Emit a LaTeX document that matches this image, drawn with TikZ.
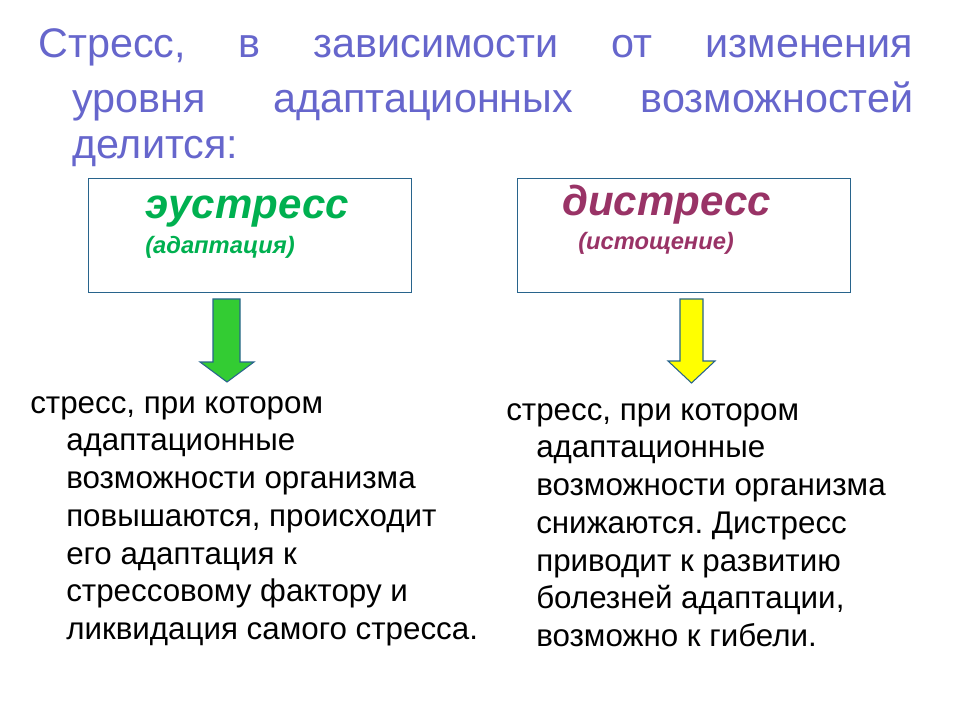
\documentclass[tikz,border=0pt]{standalone}
\usepackage{fontspec}
\setmainfont{Liberation Sans}
\usetikzlibrary{positioning}
\frenchspacing

\definecolor{titleblue}{RGB}{102,102,204}
\definecolor{eugreen}{RGB}{0,176,80}
\definecolor{displum}{RGB}{153,51,102}
\definecolor{frameblue}{RGB}{40,100,140}
\definecolor{arrowgreen}{RGB}{51,204,51}
\definecolor{arrowyellow}{RGB}{255,255,0}

\tikzset{
	titleline/.style={inner sep=0, anchor=base west, text=titleblue, font=\fontsize{31}{37}\selectfont},
	kindbox/.style={draw=frameblue, line width=1.1pt, anchor=north west, minimum height=85.5pt, inner sep=0},
	kindname/.style={inner sep=0, anchor=base west, font=\bfseries\itshape\fontsize{31.5}{36}\selectfont},
	kindsub/.style={inner sep=0, anchor=base west, font=\bfseries\itshape\fontsize{17.8}{22}\selectfont},
	fatarrow/.style={draw=frameblue, line width=0.8pt, line join=miter},
	explain/.style={inner sep=0, anchor=north west, align=left, font=\fontsize{23.5}{28.3}\selectfont},
}

\begin{document}
\begin{tikzpicture}[x=0.75pt,y=-0.75pt]
	\useasboundingbox (0,0) rectangle (960,720);

	% title
	\node[titleline] (tline1) at (38,58) {\makebox[656.25pt][s]{Стресс, в зависимости от изменения}};
	\node[titleline] (tline2) at (72,113) {\makebox[630.75pt][s]{уровня адаптационных возможностей}};
	\node[titleline] (tline3) at (72,159) {делится:};

	% the two boxes
	\node[kindbox, minimum width=242.25pt] (eubox) at (88,178) {};
	\node[kindbox, minimum width=249.75pt] (disbox) at (517,178) {};
	\node[kindname, text=eugreen] (euname) at (145,219) {эустресс};
	\node[kindsub, text=eugreen] (eusub) at (145,254) {(адаптация)};
	\node[kindname, text=displum] (disname) at (562,216) {дистресс};
	\node[kindsub, text=displum] (dissub) at (578,250) {(истощение)};

	% block arrows
	\coordinate (eutop) at (213,299);
	\coordinate (distop) at (680,299);
	\draw[fatarrow, fill=arrowgreen] (eutop) -- ++(27,0) -- ++(0,63) -- ++(14,0) -- ++(-27,20) -- ++(-27,-20) -- ++(13,0) -- cycle;
	\draw[fatarrow, fill=arrowyellow] (distop) -- ++(23,0) -- ++(0,62) -- ++(12,0) -- ++(-23.5,22) -- ++(-23.5,-22) -- ++(12,0) -- cycle;

	% explanations
	\node[explain] (eutext) at (30,396) {стресс, при котором\\
		\hspace*{27pt}адаптационные\\
		\hspace*{27pt}возможности организма\\
		\hspace*{27pt}повышаются, происходит\\
		\hspace*{27pt}его адаптация к\\
		\hspace*{27pt}стрессовому фактору и\\
		\hspace*{27pt}ликвидация самого стресса.};
	\node[explain] (distext) at (506,403) {стресс, при котором\\
		\hspace*{22.5pt}адаптационные\\
		\hspace*{22.5pt}возможности организма\\
		\hspace*{22.5pt}снижаются. Дистресс\\
		\hspace*{22.5pt}приводит к развитию\\
		\hspace*{22.5pt}болезней адаптации,\\
		\hspace*{22.5pt}возможно к гибели.};
\end{tikzpicture}
\end{document}
